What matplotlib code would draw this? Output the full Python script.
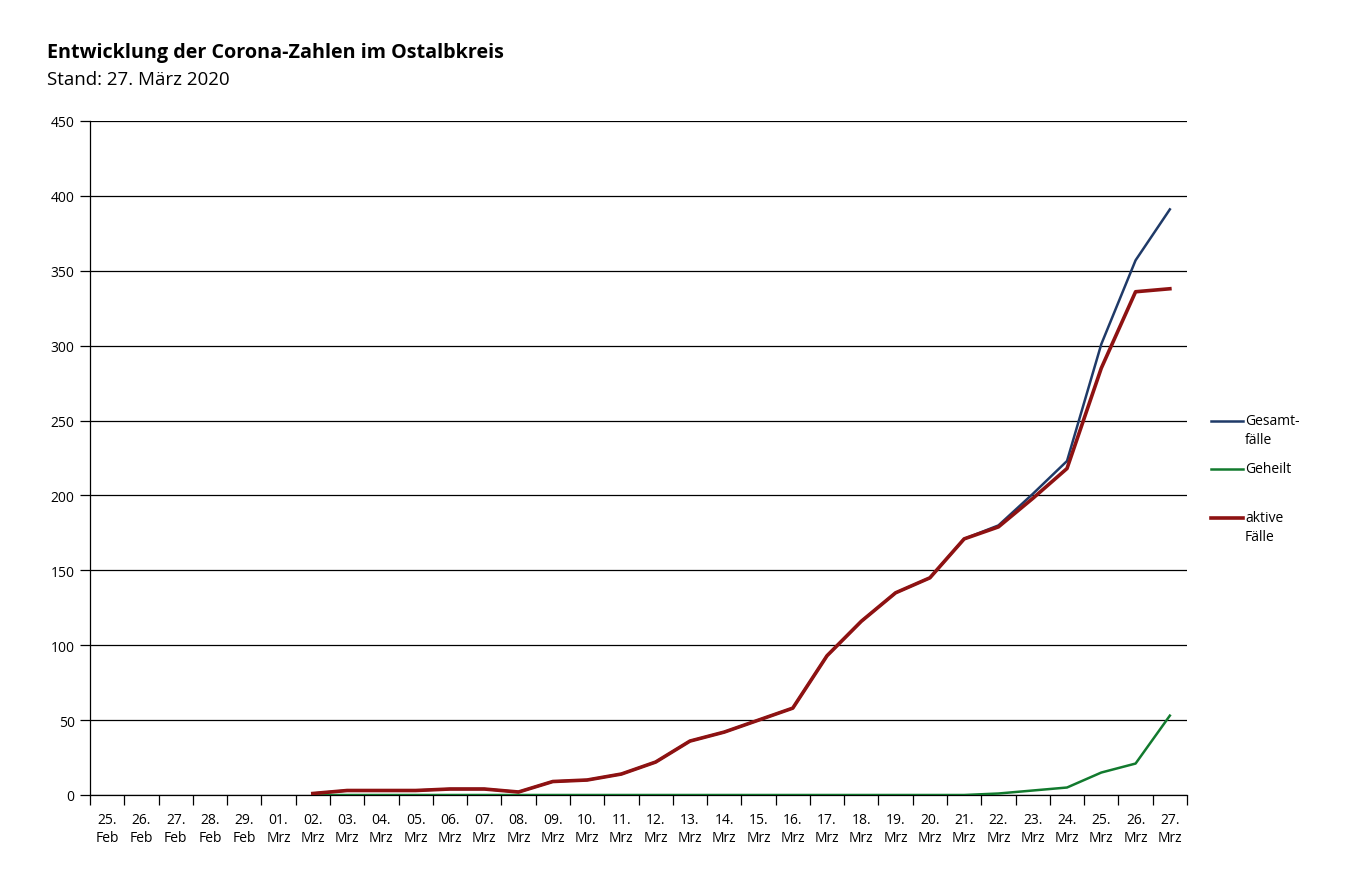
import numpy as np
import matplotlib
matplotlib.use("Agg")
import matplotlib.pyplot as plt
from matplotlib.lines import Line2D

plt.rcParams['font.family'] = ['Open Sans', 'DejaVu Sans']

# categories (days)
days = ["25.", "26.", "27.", "28.", "29.", "01.", "02.", "03.", "04.", "05.", "06.",
        "07.", "08.", "09.", "10.", "11.", "12.", "13.", "14.", "15.", "16.", "17.",
        "18.", "19.", "20.", "21.", "22.", "23.", "24.", "25.", "26.", "27."]
months = ["Feb"] * 5 + ["Mrz"] * 27
tick_labels = [d + "\n" + m for d, m in zip(days, months)]

nan = np.nan
# active cases
aktive = [nan, nan, nan, nan, nan, nan, 1, 3, 3, 3, 4, 4, 2, 9, 10, 14, 22, 36, 42,
          50, 58, 93, 116, 135, 145, 171, 179, 198, 218, 285, 336, 338]
# recovered
geheilt = [nan, nan, nan, nan, nan, nan, 0, 0, 0, 0, 0, 0, 0, 0, 0, 0, 0, 0, 0,
           0, 0, 0, 0, 0, 0, 0, 1, 3, 5, 15, 21, 53]
# total cases
gesamt = [nan, nan, nan, nan, nan, nan, 1, 3, 3, 3, 4, 4, 2, 9, 10, 14, 22, 36, 42,
          50, 58, 93, 116, 135, 145, 171, 180, 201, 223, 301, 357, 391]

c_blue = "#1f3a68"
c_green = "#127a2e"
c_red = "#8e1212"

fig = plt.figure(figsize=(13.57, 8.79), dpi=100)
ax = fig.add_axes([90 / 1357, 1 - 796 / 879, (1187 - 90) / 1357, (796 - 122) / 879])

x = np.arange(len(days)) + 0.5
ax.plot(x, gesamt, color=c_blue, lw=1.8, zorder=3)
ax.plot(x, geheilt, color=c_green, lw=1.8, zorder=3)
ax.plot(x, aktive, color=c_red, lw=2.6, zorder=4)

ax.set_xlim(0, len(days))
ax.set_ylim(0, 450)
ax.set_yticks(np.arange(0, 451, 50))
ax.yaxis.grid(True, color="black", lw=0.9)
ax.set_axisbelow(True)

ax.set_xticks(np.arange(0, len(days) + 1))
ax.set_xticklabels([])
ax.set_xticks(x, minor=True)
ax.set_xticklabels(tick_labels, minor=True, fontsize=10, linespacing=1.3)
ax.tick_params(axis="x", which="minor", length=0, pad=12)
ax.tick_params(axis="x", which="major", length=7, width=0.9, direction="out")
ax.tick_params(axis="y", length=7, width=0.9, labelsize=10, pad=4)

for s in ["top", "right"]:
    ax.spines[s].set_visible(False)
ax.spines["left"].set_linewidth(0.9)
ax.spines["bottom"].set_linewidth(0.9)

fig.text(47 / 1357, 1 - 58 / 879, "Entwicklung der Corona-Zahlen im Ostalbkreis",
         fontsize=14.2, fontweight="bold", va="baseline")
fig.text(47 / 1357, 1 - 85 / 879, "Stand: 27. März 2020", fontsize=13.5, va="baseline")

# legend
legend_items = [("Gesamt-\nfälle", c_blue, 422, 1.8),
                ("Geheilt", c_green, 470, 1.8),
                ("aktive\nFälle", c_red, 519, 2.6)]
for label, col, ypx, lw in legend_items:
    yf = 1 - ypx / 879
    fig.add_artist(Line2D([1211 / 1357, 1243 / 1357], [yf, yf], color=col, lw=lw))
    fig.text(1245 / 1357, yf + 8 / 879, label, fontsize=10, va="top",
             linespacing=1.4)

fig.savefig("out.png", dpi=100)
